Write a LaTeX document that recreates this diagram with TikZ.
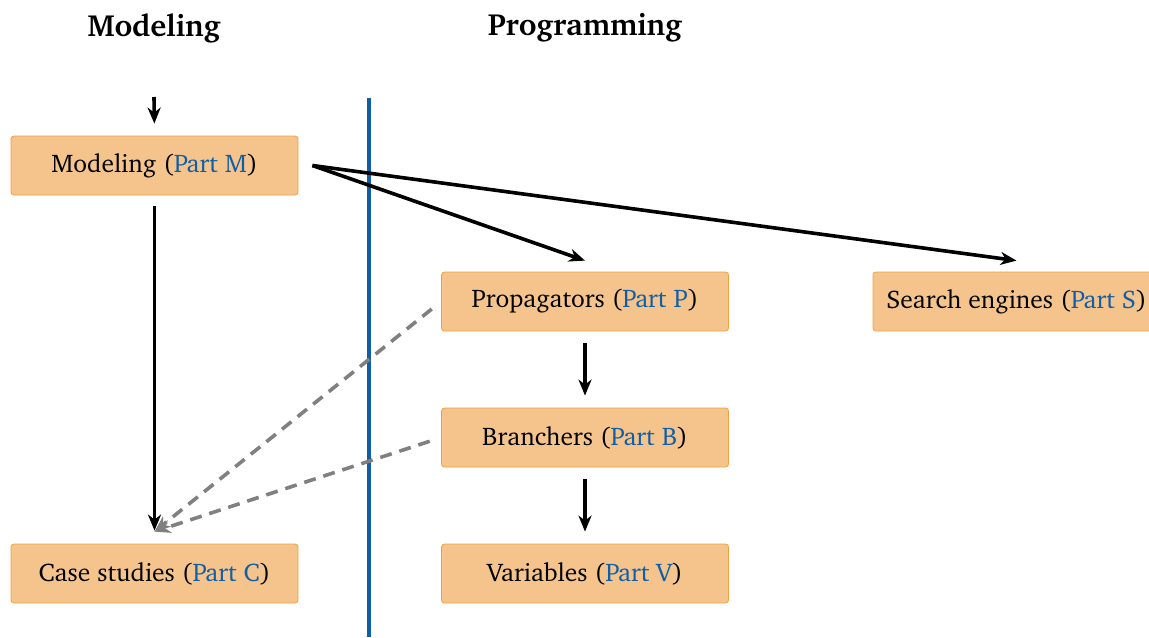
\documentclass[tikz,border=0pt]{standalone}
\usepackage[T1]{fontenc}
\usepackage{charter}
\usepackage{tikz}
\usetikzlibrary{arrows.meta}

\definecolor{partblue}{RGB}{16,94,166}
\definecolor{boxfill}{RGB}{244,196,140}
\definecolor{boxdraw}{RGB}{240,160,64}
\newcommand{\partlink}[1]{\textcolor{partblue}{Part #1}}

\begin{document}
\begin{tikzpicture}[x=0.5pt,y=-0.5pt,
    part/.style={draw=boxdraw,fill=boxfill,rounded corners=1.5pt,minimum width=143.5pt,minimum height=29.5pt,inner sep=0pt,font=\fontsize{12.75}{15}\selectfont},
    title/.style={font=\fontsize{15.3}{18}\selectfont\bfseries},
    flow/.style={-{Stealth[length=8pt,width=6.5pt,inset=2.5pt]},line width=1.8pt},
    hint/.style={flow,gray,dash pattern=on 6pt off 4pt}]
    \useasboundingbox (0,0) rectangle (1149,637);
    \node[title] (hmod) at (154,28) {Modeling};
    \node[title] (hprog) at (585,28) {Programming};
    \node[part] (model) at (154.5,165.5) {Modeling (\partlink{M})};
    \node[part] (case) at (154.5,573.5) {Case studies (\partlink{C})};
    \node[part] (prop) at (585,301.5) {Propagators (\partlink{P})};
    \node[part] (branch) at (585,437.5) {Branchers (\partlink{B})};
    \node[part] (vars) at (585,573.5) {Variables (\partlink{V})};
    \node[part] (search) at (1016.5,301.5) {Search engines (\partlink{S})};
    \coordinate (entry) at (154,97);
    \coordinate (wallt) at (369,98);
    \coordinate (wallb) at (369,637);
    % the wall between the two columns
    \draw[partblue,line width=2.2pt] (wallt) -- (wallb);
    \draw[flow,shorten >=6pt] (entry) -- (model.north);
    \draw[flow,shorten <=5.5pt,shorten >=6.5pt] (model.south) -- (case.north);
    \draw[flow] ([xshift=7pt]model.east) -- ([yshift=5.5pt]prop.north);
    \draw[flow] ([xshift=7pt]model.east) -- ([yshift=5.5pt]search.north);
    \draw[flow,shorten <=6pt,shorten >=6pt] (prop.south) -- (branch.north);
    \draw[flow,shorten <=6pt,shorten >=6pt] (branch.south) -- (vars.north);
    \draw[hint,shorten <=6pt] (prop.west) -- ([yshift=6pt]case.north);
    \draw[hint,shorten <=6pt] (branch.west) -- ([yshift=6pt]case.north);
\end{tikzpicture}
\end{document}
